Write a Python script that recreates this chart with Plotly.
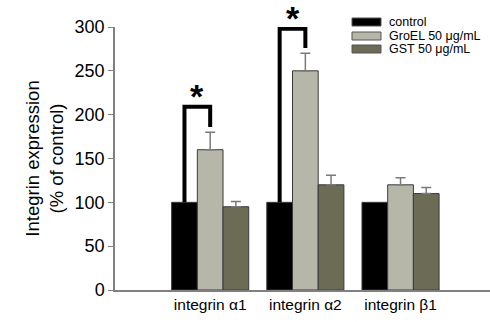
import plotly.graph_objects as go

categories = ["integrin \u03b11", "integrin \u03b12", "integrin \u03b21"]
series_names = ["control", "GroEL 50 \u03bcg/mL", "GST 50 \u03bcg/mL"]
control = [100, 100, 100]
groel = [160, 250, 120]
groel_err = [20, 20, 8]
gst = [95, 120, 110]
gst_err = [6, 11, 7]
# significance brackets: (category index, top of bracket, bottom of right leg)
bracket_top = [209, 298]
bracket_right_bottom = [186, 276]
bracket_cat = [0, 1]

colors = ["#000000", "#b7b7a9", "#6b6b56"]
tick_vals = [0, 50, 100, 150, 200, 250, 300]

fig = go.Figure()
values = [control, groel, gst]
errs = [None, groel_err, gst_err]
xpos = list(range(len(categories)))
for name, vals, err, col in zip(series_names, values, errs, colors):
    fig.add_trace(go.Bar(
        x=xpos, y=vals, name=name, marker=dict(color=col, line=dict(color="#3a3a3a", width=1)),
        error_y=dict(type="data", array=err, visible=True, color="#7a7a7a", thickness=1.5, width=5,
                     symmetric=False, arrayminus=[0] * 3) if err else None,
        showlegend=False, hoverinfo="skip",
    ))

bargap = 0.19
bw = (1 - bargap) / 3
shapes = []
annotations = []
for ci, top, rb in zip(bracket_cat, bracket_top, bracket_right_bottom):
    xl = ci - bw
    xr = ci
    shapes.append(dict(type="path", xref="x", yref="y",
                       path=f"M {xl},{control[ci]} L {xl},{top} L {xr},{top} L {xr},{rb}",
                       line=dict(color="black", width=4)))
    annotations.append(dict(x=(xl + xr) / 2, y=top, xref="x", yref="y", text="<b>*</b>",
                            showarrow=False, yanchor="bottom", yshift=-10,
                            font=dict(size=34, color="black", family="Liberation Sans, Arial")))

# legend drawn manually (paper coordinates of the plot area)
plot_l, plot_r, plot_t, plot_b = 115, 490, 27, 290
leg_y = [22, 36, 49]
for name, col, yy in zip(series_names, colors, leg_y):
    shapes.append(dict(type="rect", xref="paper", yref="paper",
                       x0=(352 - plot_l) / (plot_r - plot_l), x1=(381 - plot_l) / (plot_r - plot_l),
                       y0=(plot_b - (yy + 4)) / (plot_b - plot_t), y1=(plot_b - (yy - 4)) / (plot_b - plot_t),
                       fillcolor=col, line=dict(color="#555555", width=1)))
    annotations.append(dict(x=(387 - plot_l) / (plot_r - plot_l), y=(plot_b - yy) / (plot_b - plot_t),
                            xref="paper", yref="paper",
                            text=name, showarrow=False, xanchor="left", yanchor="middle",
                            font=dict(size=12.5, color="black", family="Liberation Sans, Arial")))

fig.update_layout(
    width=490, height=322,
    margin=dict(l=plot_l, r=490 - plot_r, t=plot_t, b=322 - plot_b),
    paper_bgcolor="white", plot_bgcolor="white",
    barmode="group", bargap=bargap, bargroupgap=0,
    font=dict(family="Liberation Sans, Arial", color="black"),
    shapes=shapes, annotations=annotations,
    xaxis=dict(tickvals=xpos, ticktext=categories, range=[-1, 2.94], showline=True, linecolor="#808080",
               linewidth=1.5, ticks="", tickfont=dict(size=15.5), showgrid=False, zeroline=False,
               automargin=False),
    yaxis=dict(range=[0, 300], tickvals=tick_vals, showline=True, linecolor="#808080", linewidth=1.5,
               ticks="outside", ticklen=5, tickcolor="#808080", tickfont=dict(size=18), showgrid=False,
               zeroline=False, automargin=False,
               title=dict(text="Integrin expression<br>(% of control)", font=dict(size=18.5), standoff=6)),
)

fig.write_html("out.html", config={"displayModeBar": False},
               post_script="document.body.style.margin='0';document.body.style.overflow='hidden';")
